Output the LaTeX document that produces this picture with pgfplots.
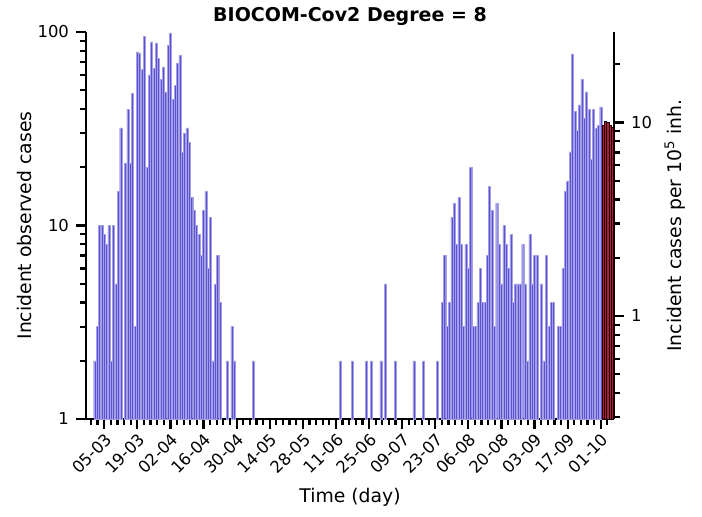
\documentclass[border=0pt]{standalone}
\usepackage{fontspec}
\setmainfont{DejaVu Sans}
\usepackage{pgfplots}
\pgfplotsset{compat=1.18}
\definecolor{barblue}{RGB}{90,82,210}
\definecolor{barred}{RGB}{200,18,52}
\begin{document}
\begin{tikzpicture}
% day 0 = 05-03
\pgfplotsset{
  base/.style={
    scale only axis, width=264pt, height=193.5pt,
    xmin=-7.7, xmax=215.6,
    tick align=outside,
    major tick length=5pt, minor tick length=3pt,
    every tick/.style={black, line width=1.1pt},
    axis line style={line width=1.3pt, -},
    tick label style={font=\fontsize{8.2}{9.8}\selectfont},
    label style={font=\fontsize{9.4}{11}\selectfont},
  }
}
\begin{axis}[base,
  axis x line*=bottom, axis y line*=left,
  ymode=log, ymin=1, ymax=100,
  ytick={1,10,100}, yticklabels={1,10,100},
  minor ytick={2,3,4,5,6,7,8,9,20,30,40,50,60,70,80,90},
  xtick={0,14,...,210},
  xticklabels={05-03,19-03,02-04,16-04,30-04,14-05,28-05,11-06,25-06,09-07,23-07,06-08,20-08,03-09,17-09,01-10},
  minor xtick={-5.6,-2.8,...,214},
  xticklabel style={rotate=45, anchor=north east, inner sep=1pt},
  xlabel={Time (day)},
  xlabel style={at={(axis description cs:0.5,-0.2016)}, anchor=center},
  ylabel={Incident observed cases},
  ylabel style={at={(axis description cs:-0.1174,0.5)}, anchor=center},
  clip=false,
]
\addplot[ybar, bar width=0.86, bar shift=0pt, fill=barblue, draw=barblue!55!white, line width=0.2pt] coordinates {
(-4,2) (-3,3) (-2,10) (-1,10) (0,9) (1,8) (2,10) (3,2) (4,10) (5,5) (6,15) (7,32)
(9,21) (10,40) (11,21) (12,48) (13,3) (14,79) (15,78) (16,64) (17,95) (18,20)
(19,60) (20,89) (21,65) (22,88) (23,73) (24,57) (25,66) (26,49) (27,85) (28,99)
(29,45) (30,53) (31,69) (32,76) (33,24) (34,30) (35,32) (36,27) (37,14) (38,12)
(39,10) (40,9) (41,7) (42,12) (43,15) (44,6) (45,11) (46,2) (47,5) (48,7) (49,4)
(52,2) (54,3) (55,2) (63,2)
(100,2) (105,2) (111,2) (113,2) (117,2) (119,5) (123,2) (131,2) (135,2) (141,2)
(143,4) (144,7) (145,3) (146,4) (147,11) (148,13) (149,8) (150,14) (151,8) (152,3)
(153,8) (154,6) (155,20) (156,3) (157,3) (158,4) (159,6) (160,4) (161,4) (162,7)
(163,16) (164,12) (165,3) (166,13) (167,8) (168,5) (169,10) (170,8) (171,6) (172,9)
(173,4) (174,5) (175,5) (176,5) (177,8) (178,5) (179,2) (180,9) (181,5) (182,7)
(183,7) (185,5) (186,2) (187,7) (188,3) (189,4) (190,4) (192,3) (193,3) (194,6)
(195,15) (196,17) (197,24) (198,77) (199,39) (200,31) (201,42) (202,57) (203,36)
(204,49) (205,40) (206,22) (207,40) (208,32) (209,33) (210,41)
};
\addplot[ybar, bar width=0.9, bar shift=0pt, fill=barred, draw=black, line width=0.4pt] coordinates {
(211,33) (212,34.4) (213,34) (214,33) (215,32.2)
};
\node[anchor=center, font=\fontsize{9.5}{11}\selectfont\bfseries] at (rel axis cs:0.5,1.041) {BIOCOM-Cov2 Degree = 8};
\end{axis}
\begin{axis}[base,
  axis x line=none, axis y line*=right,
  ymode=log, ymin=0.29326, ymax=29.326,
  ytick={1,10}, yticklabels={1,10},
  minor ytick={0.3,0.4,0.5,0.6,0.7,0.8,0.9,2,3,4,5,6,7,8,9,20},
  ylabel={Incident cases per 10\textsuperscript{5} inh.},
  ylabel style={at={(axis description cs:1.1155,0.5)}, anchor=center},
]
\addplot[draw=none] coordinates {(0,1)};
\end{axis}
\pgfresetboundingbox
\useasboundingbox (-43pt,-48.5pt) rectangle (308pt,209.5pt);
\end{tikzpicture}
\end{document}
